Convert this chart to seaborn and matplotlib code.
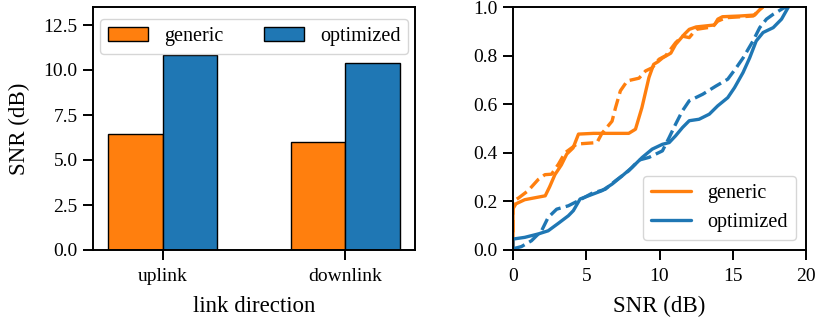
import numpy as np
import pandas as pd
import matplotlib
matplotlib.use("Agg")
import matplotlib.pyplot as plt
from matplotlib.lines import Line2D
import seaborn as sns

# ---- bar chart data: mean SNR per link direction ----
directions = ["uplink", "downlink"]
methods = ["generic", "optimized"]
snr_generic = [6.45, 5.99]
snr_optimized = [10.82, 10.38]

# ---- CDF curves (solid = uplink, dashed = downlink) ----
gen_up_x = [0.0, 0.0, 0.2, 0.8, 1.5, 2.2, 2.5, 2.86, 3.3, 3.67, 4.1, 4.47, 5.5, 6.5, 7.9, 8.36, 8.8, 9.28,
            9.6, 9.9, 10.2, 10.77, 11.1, 11.7, 12.03, 12.5, 13.75, 13.98, 14.3, 15.5, 16.5, 16.7, 17.02]
gen_up_y = [0.0, 0.17, 0.19, 0.207, 0.215, 0.223, 0.26, 0.31, 0.35, 0.395, 0.42, 0.477, 0.48, 0.48, 0.48, 0.497, 0.586, 0.71,
            0.764, 0.775, 0.79, 0.81, 0.846, 0.888, 0.908, 0.918, 0.926, 0.95, 0.96, 0.963, 0.967, 0.98, 1.0]

gen_dn_x = [0.0, 0.0, 0.4, 1.03, 1.72, 2.18, 2.63, 3.1, 3.55, 4.0, 4.35, 4.8, 5.73, 6.07, 6.76, 7.0, 7.33, 7.8,
            8.6, 9.05, 9.5, 9.97, 10.43, 11.1, 11.57, 12.03, 12.5, 13.6, 13.98, 14.55, 16.4, 16.84, 17.07]
gen_dn_y = [0.0, 0.2, 0.215, 0.244, 0.29, 0.31, 0.312, 0.353, 0.40, 0.42, 0.436, 0.438, 0.442, 0.48, 0.53, 0.586, 0.655, 0.696,
            0.707, 0.737, 0.75, 0.785, 0.80, 0.853, 0.88, 0.874, 0.908, 0.918, 0.942, 0.956, 0.963, 0.99, 1.0]

opt_up_x = [0.0, 0.0, 0.8, 1.72, 2.4, 3.1, 3.78, 4.12, 4.58, 5.15, 6.07, 6.76, 7.45, 8.13, 8.82, 9.5, 10.2, 10.66,
            11.1, 11.57, 12.03, 12.7, 13.4, 13.97, 14.66, 15.12, 15.7, 16.15, 16.6, 17.07, 17.76, 18.33, 18.8]
opt_up_y = [0.0, 0.045, 0.052, 0.066, 0.079, 0.11, 0.141, 0.162, 0.21, 0.223, 0.244, 0.271, 0.305, 0.34, 0.381, 0.415, 0.435, 0.442,
            0.47, 0.504, 0.532, 0.538, 0.559, 0.593, 0.627, 0.668, 0.73, 0.79, 0.86, 0.895, 0.915, 0.95, 1.0]

opt_dn_x = [0.0, 0.57, 1.26, 1.95, 2.4, 2.98, 3.78, 4.47, 5.38, 6.3, 7.0, 7.9, 8.6, 9.28, 10.2, 10.66, 11.1, 11.57,
            12.03, 12.95, 13.86, 14.66, 15.24, 15.7, 16.38, 16.84, 17.3, 17.76, 18.45, 18.67]
opt_dn_y = [0.005, 0.014, 0.038, 0.079, 0.134, 0.168, 0.182, 0.203, 0.233, 0.25, 0.285, 0.326, 0.37, 0.381, 0.408, 0.463, 0.518, 0.573,
            0.614, 0.641, 0.675, 0.703, 0.75, 0.79, 0.86, 0.915, 0.95, 0.97, 0.995, 1.0]

orange = "#ff7f0e"
blue = "#1f77b4"

sns.set_style("ticks")
plt.rcParams.update({
    "font.family": ["Liberation Serif", "DejaVu Serif"],
    "axes.edgecolor": "black",
    "axes.linewidth": 1.4,
    "xtick.color": "black",
    "ytick.color": "black",
    "xtick.major.size": 7,
    "ytick.major.size": 7,
    "xtick.major.width": 1.4,
    "ytick.major.width": 1.4,
    "xtick.major.pad": 6,
    "ytick.major.pad": 4,
    "xtick.labelsize": 14,
    "ytick.labelsize": 14,
    "axes.labelsize": 16.5,
    "legend.fontsize": 14.5,
    "axes.labelcolor": "black",
    "text.color": "black",
})

fig, (ax1, ax2) = plt.subplots(1, 2, figsize=(8.16, 3.26), dpi=100)
top_px, bot_px = 7, 250
ax1.set_position([93 / 816, 1 - bot_px / 326, (415 - 93) / 816, (bot_px - top_px) / 326])
ax2.set_position([513 / 816, 1 - bot_px / 326, (806 - 513) / 816, (bot_px - top_px) / 326])

# ---- left: grouped bars ----
bars = pd.DataFrame({
    "direction": directions * 2,
    "method": [methods[0]] * 2 + [methods[1]] * 2,
    "snr": snr_generic + snr_optimized,
})
sns.barplot(data=bars, x="direction", y="snr", hue="method", order=directions,
            hue_order=methods, palette=[orange, blue], width=0.6, saturation=1,
            edgecolor="black", linewidth=1.0, ax=ax1)
ax1.set_xlim(-0.38, 1.38)
ax1.set_ylim(0, 13.5)
ax1.set_yticks(np.arange(0, 13, 2.5))
ax1.set_xlabel("link direction", labelpad=8)
ax1.set_ylabel("SNR (dB)", labelpad=10)
for s in ax1.spines.values():
    s.set_visible(True)
sns.move_legend(ax1, "upper center", ncol=2, title=None, frameon=True,
                columnspacing=2.0, borderaxespad=0.6)

# ---- right: CDF curves ----
frames = []
for m, link, xs, ys in [("generic", "uplink", gen_up_x, gen_up_y),
                        ("generic", "downlink", gen_dn_x, gen_dn_y),
                        ("optimized", "uplink", opt_up_x, opt_up_y),
                        ("optimized", "downlink", opt_dn_x, opt_dn_y)]:
    frames.append(pd.DataFrame({"snr": xs, "cdf": ys, "method": m, "link": link}))
cdf = pd.concat(frames, ignore_index=True)
sns.lineplot(data=cdf, x="snr", y="cdf", hue="method", style="link",
             hue_order=methods, style_order=["uplink", "downlink"],
             palette=[orange, blue], dashes={"uplink": "", "downlink": (3.7, 1.6)},
             sort=False, estimator=None, linewidth=2.4, legend=False, ax=ax2)
ax2.set_xlim(0, 20)
ax2.set_ylim(0, 1)
ax2.set_xticks([0, 5, 10, 15, 20])
ax2.set_yticks(np.arange(0, 1.01, 0.2))
ax2.set_xlabel("SNR (dB)", labelpad=8)
ax2.set_ylabel("")
for s in ax2.spines.values():
    s.set_visible(True)
handles = [Line2D([], [], color=orange, lw=2.4), Line2D([], [], color=blue, lw=2.4)]
ax2.legend(handles, methods, loc="lower right", frameon=True)

fig.savefig("out.png", dpi=100)
